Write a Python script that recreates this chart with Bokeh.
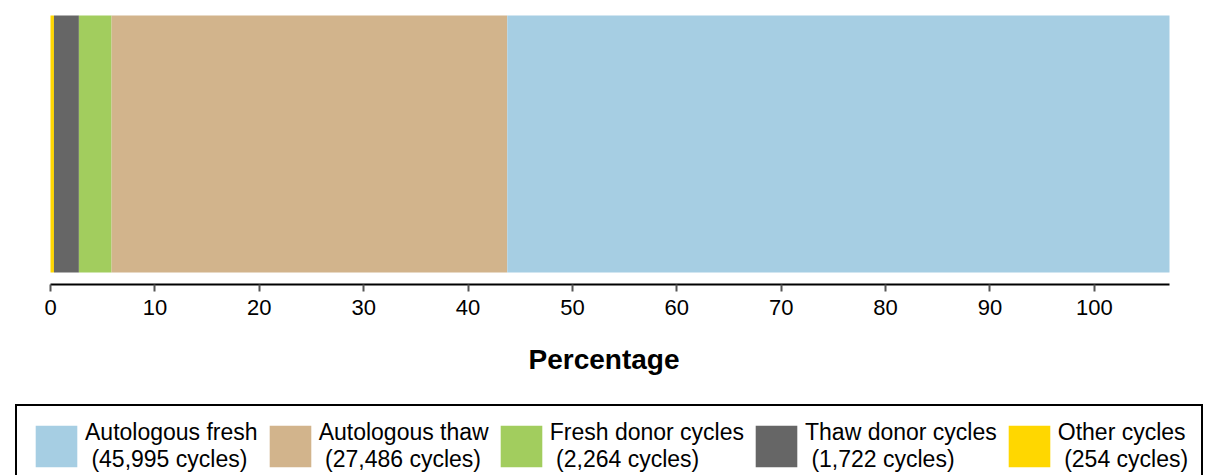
from bokeh.plotting import figure
from bokeh.layouts import column
from bokeh.models import Range1d, Legend, LegendItem, FixedTicker, ColumnDataSource
from bokeh.embed import file_html
from bokeh.resources import INLINE

# ---- data ----
categories = ["Autologous fresh", "Autologous thaw", "Fresh donor cycles",
              "Thaw donor cycles", "Other cycles"]
cycles = [45995, 27486, 2264, 1722, 254]
percentages = [63.44, 37.91, 3.13, 2.39, 0.33]
colors = ["#a6cee3", "#d2b48c", "#a2cd5e", "#666666", "#ffd700"]
x_ticks = [0, 10, 20, 30, 40, 50, 60, 70, 80, 90, 100]

FONT = "Liberation Sans"

total = sum(percentages)
data = {"y": [0]}
for c, v in zip(categories, percentages):
    data[c] = [v]
source = ColumnDataSource(data)

# layout: the frame spans the whole width; 0 sits 50px in, the bar ends 38px
# before the right edge
W = 1207
left_px, right_px = 50, 38
ppu = (W - left_px - right_px) / total
x_start = -left_px / ppu
x_end = total + right_px / ppu

p = figure(width=W, height=395,
           x_range=Range1d(x_start, x_end),
           y_range=Range1d(-0.5467, 0.5584),
           output_backend="svg", toolbar_location=None,
           min_border_left=0, min_border_right=0,
           min_border_top=0, min_border_bottom=111)

stack_order = list(reversed(categories))
stack_colors = list(reversed(colors))
p.hbar_stack(stack_order, y="y", height=1.0, color=stack_colors,
             line_color=None, source=source)

p.yaxis.visible = False
p.grid.visible = False
p.outline_line_color = None
p.background_fill_color = "white"
p.border_fill_color = "white"

ax = p.xaxis[0]
ax.bounds = (0, total)
ax.ticker = FixedTicker(ticks=x_ticks)
ax.axis_line_color = "black"
ax.axis_line_width = 2
ax.major_tick_line_color = "#555555"
ax.major_tick_line_width = 2
ax.major_tick_out = 7
ax.major_tick_in = 0
ax.minor_tick_line_color = None
ax.major_label_text_font = FONT
ax.major_label_text_font_size = "22px"
ax.major_label_text_color = "black"
ax.major_label_standoff = 8
ax.axis_label = "Percentage"
ax.axis_label_text_font = FONT
ax.axis_label_text_font_style = "bold"
ax.axis_label_text_font_size = "28px"
ax.axis_label_text_color = "black"
ax.axis_label_standoff = 26

# ---- legend strip under the chart ----
lg = figure(width=W, height=80, output_backend="svg", toolbar_location=None,
            x_range=Range1d(0, 1), y_range=Range1d(10, 11),
            min_border_left=0, min_border_right=0,
            min_border_top=0, min_border_bottom=0)
lg.xaxis.visible = False
lg.yaxis.visible = False
lg.grid.visible = False
lg.outline_line_color = None
lg.background_fill_color = "white"
lg.border_fill_color = "white"

# same stacked bars (out of this strip's view) used only for the swatches
lg_renderers = lg.hbar_stack(stack_order, y="y", height=1.0, color=stack_colors,
                             line_color=None, source=source)
lmap = dict(zip(stack_order, lg_renderers))

items = [LegendItem(label=f"{c}\n ({n:,} cycles)", renderers=[lmap[c]])
         for c, n in zip(categories, cycles)]
legend = Legend(items=items, orientation="horizontal", location=(15, -13),
                glyph_width=52, glyph_height=52,
                label_text_font=FONT, label_text_font_size="23px",
                label_text_line_height=1.1,
                label_text_color="black", label_standoff=3, spacing=6,
                padding=13, margin=0,
                border_line_color="black", border_line_alpha=1.0,
                border_line_width=2,
                background_fill_color="white")
lg.add_layout(legend, "center")

layout = column(p, lg, spacing=0)
open("out.html", "w").write(file_html(layout, INLINE))
